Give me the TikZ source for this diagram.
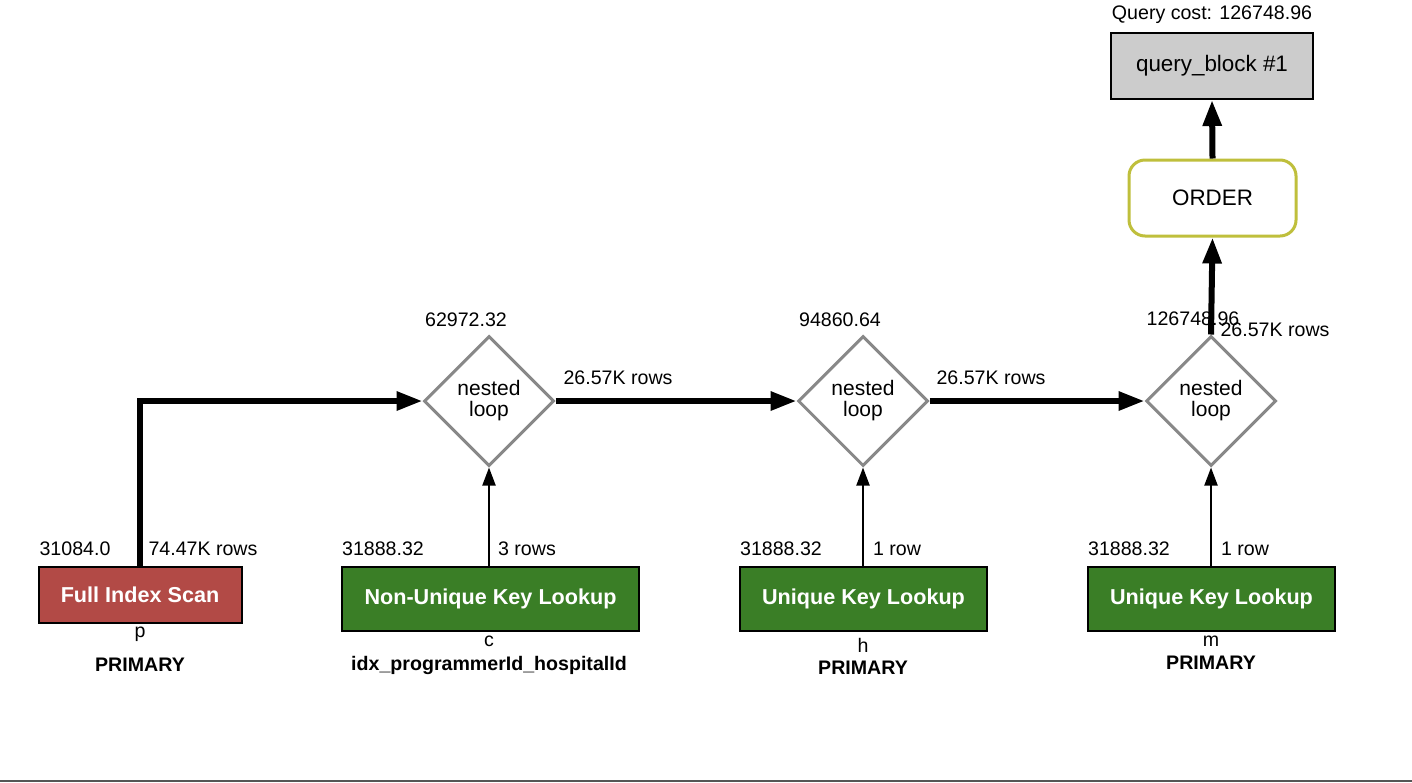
\documentclass[tikz,border=0pt]{standalone}
\usepackage{fontspec}
\setmainfont{Liberation Sans}
\usetikzlibrary{shapes.geometric,arrows.meta}
\definecolor{scanred}{HTML}{B24A46}
\definecolor{lookgreen}{HTML}{3A7E26}
\definecolor{orderol}{HTML}{BFBF3C}
\definecolor{diagray}{HTML}{888888}
\definecolor{qbgray}{HTML}{CCCCCC}
\definecolor{rulegray}{HTML}{555555}
\tikzset{
  lbl/.style={inner sep=0pt, font=\fontsize{9.8pt}{11pt}\selectfont},
  blbl/.style={inner sep=0pt, font=\fontsize{9.8pt}{11pt}\selectfont\bfseries},
  opbox/.style={draw=black, line width=1pt, text=white, inner sep=0pt,
    font=\fontsize{10.8pt}{12pt}\selectfont\bfseries},
  loopnode/.style={diamond, draw=diagray, line width=1.5pt, fill=white,
    minimum width=65pt, minimum height=65pt, inner sep=0pt, align=center,
    font=\fontsize{10.5pt}{10.5pt}\selectfont},
  thickarrow/.style={line width=3pt, -{Triangle[length=13pt,width=9pt]}},
  thinarrow/.style={line width=1pt, -{Triangle[length=9pt,width=6.5pt]}},
}
\begin{document}
\begin{tikzpicture}[x=0.5pt,y=-0.5pt]
\useasboundingbox (0,0) rectangle (1412,782);
\fill[rulegray] (0,779.5) rectangle (1412,782);

% top
\node[lbl] (qcost) at (1212,15) {Query cost: 126748.96};
\node[draw=black, line width=1pt, fill=qbgray, minimum width=101pt, minimum height=33pt,
  inner sep=0pt, font=\fontsize{11.2pt}{12pt}\selectfont] (qb) at (1212,66) {query\_block \#1};
\node[draw=orderol, line width=1.5pt, rounded corners=8pt, fill=white, minimum width=83.5pt,
  minimum height=38pt, inner sep=0pt, font=\fontsize{11.2pt}{12pt}\selectfont] (order) at (1212.5,198) {ORDER};

% nested loops
\node[loopnode] (d1) at (489,401) {nested\\loop};
\node[loopnode] (d2) at (863,401) {nested\\loop};
\node[loopnode] (d3) at (1211,401) {nested\\loop};

% operation boxes
\node[opbox, fill=scanred, minimum width=101.5pt, minimum height=28pt] (b1) at (140,595) {Full Index Scan};
\node[opbox, fill=lookgreen, minimum width=148.5pt, minimum height=32pt] (b2) at (490.5,599) {Non-Unique Key Lookup};
\node[opbox, fill=lookgreen, minimum width=123.5pt, minimum height=32pt] (b3) at (863.5,599) {Unique Key Lookup};
\node[opbox, fill=lookgreen, minimum width=123.5pt, minimum height=32pt] (b4) at (1211.5,599) {Unique Key Lookup};

% connectors
\draw[thickarrow] (b1.north) |- (d1.west);
\draw[thickarrow] (d1.east) -- (d2.west);
\draw[thickarrow] (d2.east) -- (d3.west);
\draw[thickarrow] (d3.north) -- (order.south);
\draw[thickarrow] (order.north) -- (qb.south);
\draw[thinarrow] (b2.north -| d1.south) -- (d1.south);
\draw[thinarrow] (b3.north -| d2.south) -- (d2.south);
\draw[thinarrow] (b4.north -| d3.south) -- (d3.south);

% cost labels
\node[lbl] (c1) at (466,320) {62972.32};
\node[lbl] (c2) at (840,320) {94860.64};
\node[lbl] (c3) at (1193,319) {126748.96};
\node[lbl] (r1) at (618,378) {26.57K rows};
\node[lbl] (r2) at (991,378) {26.57K rows};
\node[lbl] (r3) at (1275,330) {26.57K rows};

\node[lbl] (cb1) at (75,549) {31084.0};
\node[lbl] (rb1) at (203,549) {74.47K rows};
\node[lbl] (cb2) at (383,549) {31888.32};
\node[lbl] (rb2) at (527,549) {3 rows};
\node[lbl] (cb3) at (781,549) {31888.32};
\node[lbl] (rb3) at (897,549) {1 row};
\node[lbl] (cb4) at (1129,549) {31888.32};
\node[lbl] (rb4) at (1245,549) {1 row};

% table / key labels
\node[lbl] (t1) at (140,634) {p};
\node[blbl] (k1) at (140,665) {PRIMARY};
\node[lbl] (t2) at (489,641) {c};
\node[blbl] (k2) at (489,665) {idx\_programmerId\_hospitalId};
\node[lbl] (t3) at (863,645) {h};
\node[blbl] (k3) at (863,668) {PRIMARY};
\node[lbl] (t4) at (1211,641) {m};
\node[blbl] (k4) at (1211,663) {PRIMARY};
\end{tikzpicture}
\end{document}
